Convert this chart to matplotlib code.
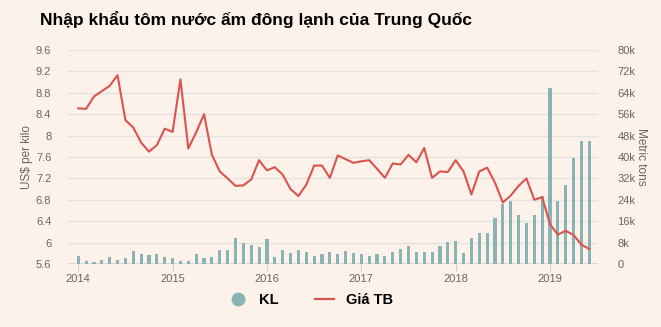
import numpy as np
import matplotlib.pyplot as plt
from matplotlib.lines import Line2D

# monthly data, Jan 2014 .. Jun 2019
price = [8.51, 8.50, 8.73, 8.83, 8.93, 9.13, 8.29, 8.15, 7.87, 7.70, 7.82, 8.13,
         8.07, 9.05, 7.76, 8.06, 8.40, 7.64, 7.33, 7.20, 7.06, 7.07, 7.18, 7.54,
         7.35, 7.41, 7.27, 7.00, 6.87, 7.08, 7.44, 7.44, 7.21, 7.63, 7.56, 7.49,
         7.52, 7.54, 7.38, 7.21, 7.48, 7.46, 7.64, 7.50, 7.77, 7.21, 7.33, 7.32,
         7.54, 7.33, 6.90, 7.33, 7.40, 7.12, 6.75, 6.88, 7.06, 7.20, 6.80, 6.85,
         6.34, 6.15, 6.22, 6.14, 5.96, 5.88]
volume = [3.0, 1.2, 0.9, 1.6, 2.6, 1.6, 2.4, 5.0, 3.7, 3.4, 3.7, 2.7,
          2.4, 1.0, 1.2, 3.6, 2.4, 2.7, 5.4, 5.4, 9.8, 7.8, 7.0, 6.4,
          9.3, 2.7, 5.2, 4.0, 5.2, 4.6, 3.0, 3.9, 4.6, 3.6, 5.0, 4.2,
          3.7, 3.0, 3.6, 3.0, 4.6, 5.7, 6.7, 4.4, 4.4, 4.6, 6.7, 8.3,
          8.6, 4.2, 9.6, 11.7, 11.7, 17.3, 22.6, 23.4, 18.4, 15.5, 18.4, 25.3,
          65.8, 23.7, 29.5, 39.5, 46.1, 46.1]  # thousand tons
years = ["2014", "2015", "2016", "2017", "2018", "2019"]

bg = "#fdf2e9"
bar_col = "#8ab4b4"
line_col = "#d9534f"
txt_col = "#666666"

plt.rcParams['font.family'] = ['Liberation Sans', 'DejaVu Sans']

x = np.arange(len(price))

fig = plt.figure(figsize=(6.61, 3.27), dpi=100, facecolor=bg)
ax = fig.add_axes([68 / 661, 1 - 264 / 327, 530 / 661, 214 / 327])
ax2 = ax.twinx()

# bars + grid on the right axis
ax2.bar(x, np.array(volume) * 1000, width=0.4, color=bar_col, zorder=2)
ax2.set_ylim(0, 80000)
ax2.set_yticks(np.arange(0, 80001, 8000))
ax2.set_yticklabels(["0"] + [f"{v}k" for v in range(8, 81, 8)])
ax2.yaxis.grid(True, color="#e3e3e3", linewidth=1, zorder=0)
ax2.set_axisbelow(True)
ax2.axhline(0, color="#d5d5d5", linewidth=2, zorder=1)
ax2.set_ylabel("Metric tons", rotation=-90, color=txt_col, fontsize=8.5, labelpad=8)

# price line on the left axis, drawn on top
ax.set_zorder(ax2.get_zorder() + 1)
ax.patch.set_visible(False)
ax.plot(x, price, color=line_col, linewidth=1.5, zorder=3)
ax.set_ylim(5.6, 9.6)
ticks = np.arange(5.6, 9.61, 0.4)
ax.set_yticks(ticks)
ax.set_yticklabels([f"{t:g}" for t in np.round(ticks, 1)])
ax.set_ylabel("US$ per kilo", color=txt_col, fontsize=8.5, labelpad=2)

ax.set_xlim(-1.3, 66.1)
ax.set_xticks(np.arange(0, 61, 12))
ax.set_xticklabels(years)

for a in (ax, ax2):
    for s in a.spines.values():
        s.set_visible(False)
    a.tick_params(axis="y", length=0, labelsize=8, labelcolor=txt_col, pad=12)
ax.tick_params(axis="x", length=5, color="#cccccc", labelsize=8, labelcolor=txt_col, pad=2)
ax2.tick_params(axis="y", pad=14)

fig.text(256 / 661, 1 - 20 / 327, "Nhập khẩu tôm nước ấm đông lạnh của Trung Quốc",
         ha="center", va="center", fontsize=12.5, fontweight="bold")

handles = [Line2D([], [], marker="o", linestyle="none", markersize=9, color=bar_col),
           Line2D([], [], color=line_col, linewidth=1.6)]
fig.legend(handles, ["KL", "Giá TB"], loc="center", bbox_to_anchor=(0.47, 1 - 300 / 327),
           ncol=2, frameon=False, prop={"weight": "bold", "size": 10.5},
           handlelength=1.3, columnspacing=2.5, handletextpad=0.8)

fig.savefig("out.png", dpi=100, facecolor=bg)
